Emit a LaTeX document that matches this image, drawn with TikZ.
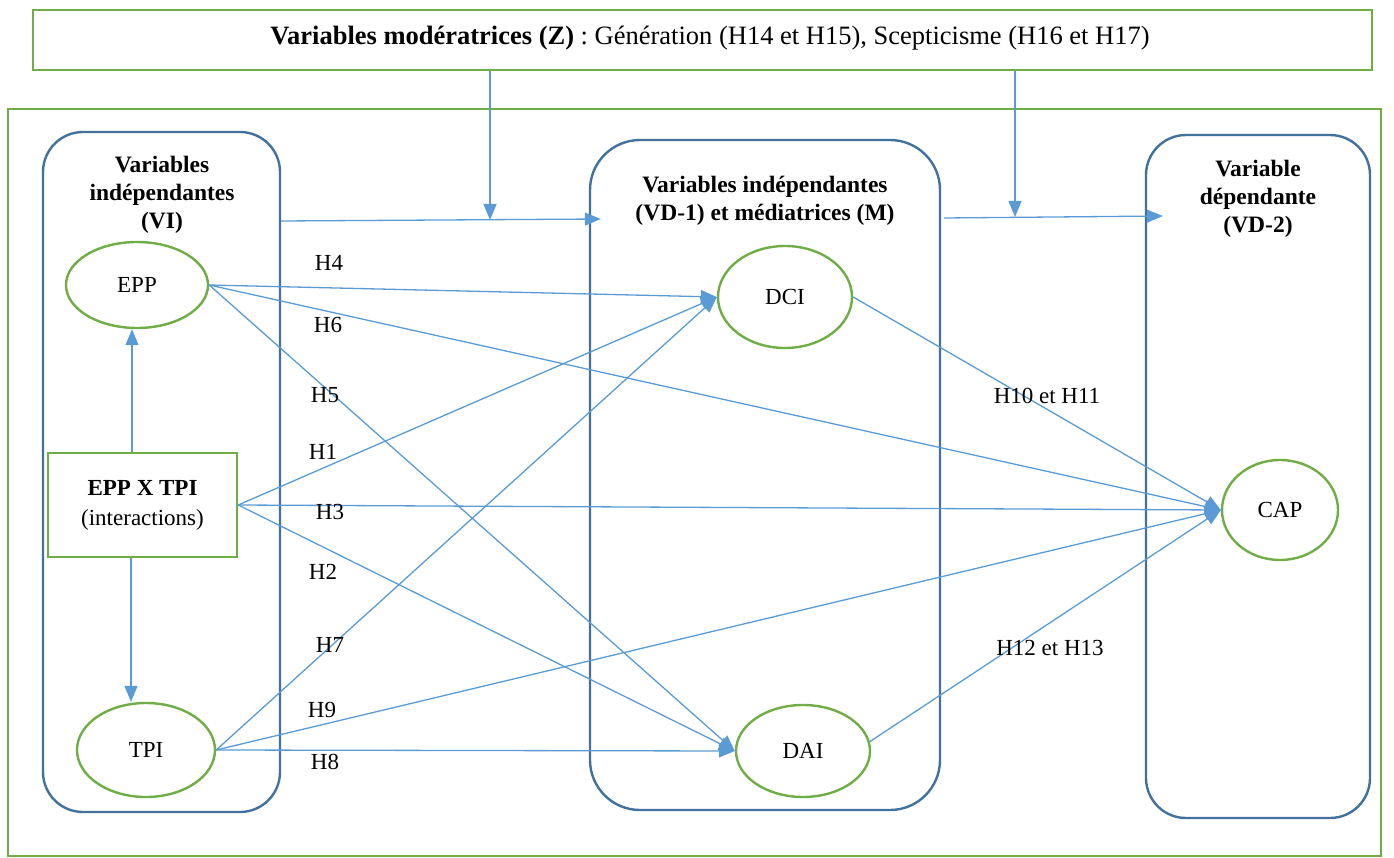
\documentclass[tikz,border=0pt]{standalone}
\usepackage{fontspec}
\setmainfont{Liberation Serif}
\usetikzlibrary{shapes.geometric,arrows.meta}
\definecolor{frameGreen}{HTML}{70AD47}
\definecolor{lineBlue}{HTML}{5B9BD5}
\definecolor{boxBlue}{HTML}{41719C}

\begin{document}
\begin{tikzpicture}[x=1pt,y=-1pt,
  txt/.style={font=\fontsize{23}{27}\selectfont},
  var/.style={ellipse,draw=frameGreen,line width=2.4pt,inner sep=0pt,txt},
  group/.style={draw=boxBlue,line width=2.4pt},
  link/.style={draw=lineBlue,line width=1.3pt,-{Triangle[length=16pt,width=13pt]}},
  hyp/.style={txt,inner sep=0pt},
  title/.style={align=center,inner sep=0pt,font=\fontsize{23.5}{28}\selectfont\bfseries}]

\useasboundingbox (0,0) rectangle (1394,858);

% moderator box and outer frame
\node[draw=frameGreen,line width=2.4pt,minimum width=1339pt,minimum height=60pt,inner sep=0pt] (mod) at (702.5,40) {};
\node[inner sep=0pt,font=\fontsize{26.5}{30}\selectfont] (modtext) at (710,38)
  {\textbf{Variables modératrices (Z)} : Génération (H14 et H15), Scepticisme (H16 et H17)};
\draw[draw=frameGreen,line width=2.4pt] (8,109) rectangle (1381,856);

% three groups
\node[group,rounded corners=40pt,minimum width=237pt,minimum height=680pt] (vi) at (161.5,472) {};
\node[group,rounded corners=50pt,minimum width=350pt,minimum height=670pt] (vd1) at (765,475) {};
\node[group,rounded corners=40pt,minimum width=224pt,minimum height=683pt] (vd2) at (1258,476.5) {};

\node[title] (vititle) at (162,195) {Variables\\indépendantes\\(VI)};
\node[title] (vd1title) at (765,201) {Variables indépendantes\\(VD-1) et médiatrices (M)};
\node[title] (vd2title) at (1258,199) {Variable\\dépendante\\(VD-2)};

% variables
\node[var,minimum width=142pt,minimum height=86pt] (epp) at (137,285) {EPP};
\node[draw=frameGreen,line width=2.4pt,minimum width=189pt,minimum height=104pt,align=center,inner sep=0pt,
      font=\fontsize{23}{30}\selectfont] (inter) at (142.5,505) {\textbf{EPP X TPI}\\(interactions)};
\node[var,minimum width=138pt,minimum height=94pt] (tpi) at (146,750) {TPI};
\node[var,minimum width=134pt,minimum height=102pt] (dci) at (785,297) {DCI};
\node[var,minimum width=134pt,minimum height=92pt] (dai) at (803,751) {DAI};
\node[var,minimum width=116pt,minimum height=100pt] (cap) at (1280,510) {CAP};

% group-to-group flow and moderation
\coordinate (j1) at (490,220);
\coordinate (j2) at (1015,217);
\draw[link] (vi.east |- 0,221) -- ([xshift=12pt]vd1.west |- 0,219);
\draw[link] ([xshift=3pt]vd1.east |- 0,218) -- ([xshift=18pt]vd2.west |- 0,216);
\draw[link] (mod.south -| j1) -- (j1);
\draw[link] (mod.south -| j2) -- (j2);

% interaction term
\draw[link] (inter.north -| 132,0) -- (epp.south -| 132,0);
\draw[link] (inter.south -| 131,0) -- (tpi.north -| 131,0);

% hypotheses
\draw[link] (epp.east) -- (dci.west);
\draw[link] (epp.east) -- (cap.west);
\draw[link] (epp.east) -- (dai.west);
\draw[link] (inter.east) -- (dci.west);
\draw[link] (inter.east) -- (cap.west);
\draw[link] (inter.east) -- (dai.west);
\draw[link] (tpi.east) -- (dci.west);
\draw[link] (tpi.east) -- (cap.west);
\draw[link] (tpi.east) -- (dai.west);
\draw[link] (dci.east) -- (cap.west);
\draw[link] (dai.8) -- (cap.west);

\node[hyp] (h4) at (329,263) {H4};
\node[hyp] (h6) at (328,325) {H6};
\node[hyp] (h5) at (325,395) {H5};
\node[hyp] (h1) at (323,452) {H1};
\node[hyp] (h3) at (330,512) {H3};
\node[hyp] (h2) at (323,572) {H2};
\node[hyp] (h7) at (330,645) {H7};
\node[hyp] (h9) at (322,710) {H9};
\node[hyp] (h8) at (325,762) {H8};
\node[hyp] (h1011) at (1047,396) {H10 et H11};
\node[hyp] (h1213) at (1050,648) {H12 et H13};
\end{tikzpicture}
\end{document}
